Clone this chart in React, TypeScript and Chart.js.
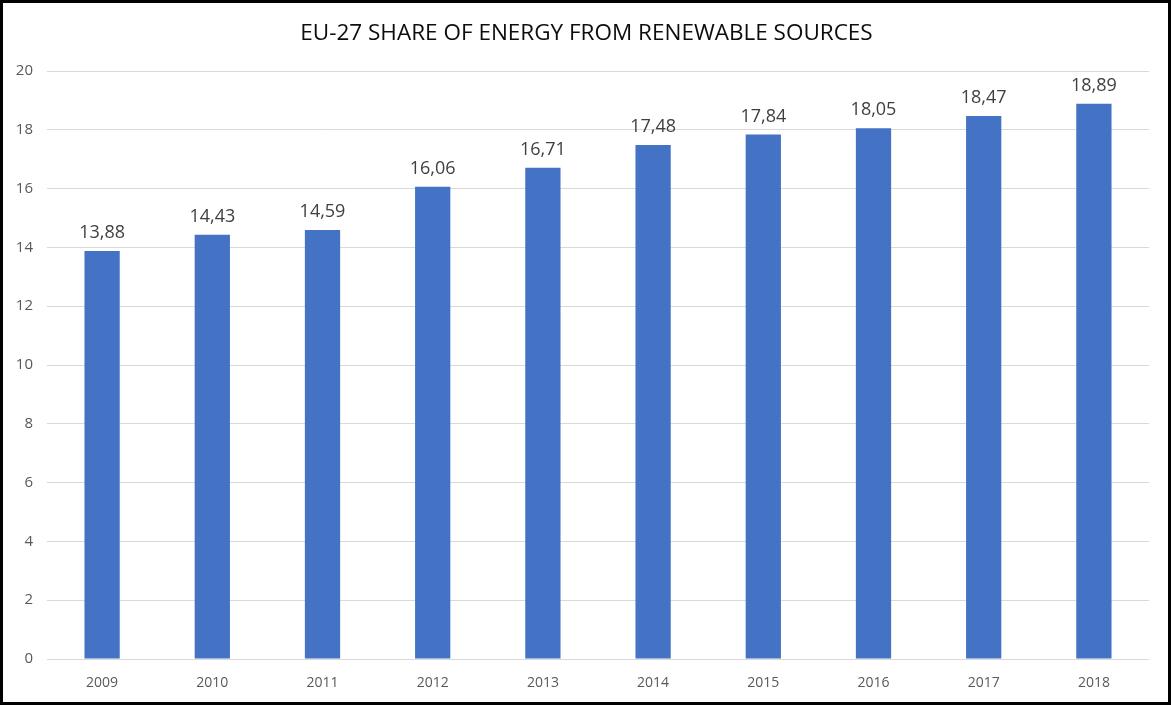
import React, { useEffect, useRef } from "react";
import { Chart, registerables } from "chart.js";

Chart.register(...registerables);

const years = ["2009", "2010", "2011", "2012", "2013", "2014", "2015", "2016", "2017", "2018"];
const shares = [13.88, 14.43, 14.59, 16.06, 16.71, 17.48, 17.84, 18.05, 18.47, 18.89];
const titleText = "EU-27 SHARE OF ENERGY FROM RENEWABLE SOURCES";
const yMin = 0;
const yMax = 20;
const yStep = 2;

const FONT = "'Open Sans', sans-serif";

const labelPlugin = {
  id: "barLabels",
  afterDatasetsDraw(chart: any) {
    const ctx = chart.ctx;
    const meta = chart.getDatasetMeta(0);
    ctx.save();
    ctx.font = `18px ${FONT}`;
    ctx.fillStyle = "#404040";
    ctx.textAlign = "center";
    ctx.textBaseline = "alphabetic";
    meta.data.forEach((bar: any, i: number) => {
      const txt = shares[i].toFixed(2).replace(".", ",");
      ctx.fillText(txt, bar.x, bar.y - 13);
    });
    ctx.restore();
  },
};

const titlePlugin = {
  id: "customTitle",
  afterDraw(chart: any) {
    const ctx = chart.ctx;
    ctx.save();
    ctx.font = `22.5px ${FONT}`;
    ctx.fillStyle = "#0d0d0d";
    ctx.textAlign = "center";
    ctx.textBaseline = "middle";
    ctx.fillText(titleText, chart.width / 2 + 1, 31);
    ctx.restore();
  },
};

export default function App() {
  const ref = useRef<HTMLCanvasElement | null>(null);

  useEffect(() => {
    document.body.style.margin = "0";
    const canvas = ref.current;
    if (!canvas) return;
    const chart = new Chart(canvas, {
      type: "bar",
      data: {
        labels: years,
        datasets: [
          {
            data: shares,
            backgroundColor: "#4472C4",
            borderWidth: 0,
            categoryPercentage: 1,
            barPercentage: 0.32,
          },
        ],
      },
      options: {
        animation: false,
        responsive: false,
        maintainAspectRatio: false,
        layout: { padding: { top: 68, right: 19, bottom: 0, left: 0 } },
        plugins: {
          legend: { display: false },
          title: { display: false },
          tooltip: { enabled: false },
        },
        scales: {
          x: {
            grid: { display: false, drawTicks: false },
            border: { display: false },
            ticks: {
              color: "#595959",
              font: { family: FONT, size: 14 },
              padding: 16,
              maxRotation: 0,
            },
            afterFit(scale: any) {
              scale.height = 43;
            },
          },
          y: {
            min: yMin,
            max: yMax,
            grid: { color: "#d9d9d9", lineWidth: 1, drawTicks: false },
            border: { display: false },
            ticks: {
              stepSize: yStep,
              color: "#595959",
              font: { family: FONT, size: 15 },
              padding: 14,
            },
            afterFit(scale: any) {
              scale.width = 44;
            },
          },
        },
      },
      plugins: [labelPlugin, titlePlugin],
    });
    return () => chart.destroy();
  }, []);

  return (
    <div
      style={{
        position: "absolute",
        left: 0,
        top: 0,
        width: 1171,
        height: 705,
        boxSizing: "border-box",
        border: "3px solid #000",
        background: "#fff",
      }}
    >
      <canvas ref={ref} width={1165} height={699} style={{ display: "block", width: 1165, height: 699 }} />
    </div>
  );
}
